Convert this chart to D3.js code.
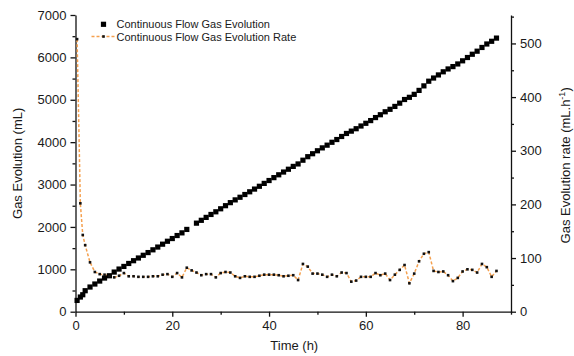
<!DOCTYPE html>
<html><head><meta charset="utf-8">
<script src="https://cdn.jsdelivr.net/npm/d3@7/dist/d3.min.js"></script>
<style>body{margin:0;background:#fff}svg{display:block}text{font-family:"Liberation Sans",Arial,sans-serif;fill:#1a1a1a}</style>
</head><body><svg id="c" width="574" height="356"></svg>
<script>
const times = [0.33,1,1.5,2,3,4,5,6,7,8,9,10,11,12,13,14,15,16,17,18,19,20,21,22,23,24,25,26,27,28,29,30,31,32,33,34,35,36,37,38,39,40,41,42,43,44,45,46,47,48,49,50,51,52,53,54,55,56,57,58,59,60,61,62,63,64,65,66,67,68,69,70,71,72,73,74,75,76,77,78,79,80,81,82,83,84,85,86,87];
const gasEvolution = [266,346,400,495,582,653,723,794,848,935,1006,1068,1138,1203,1267,1331,1395,1460,1525,1593,1662,1726,1797,1860,1941,null,2089,2156,2225,2294,2357,2428,2501,2573,2638,2700,2765,2829,2893,2959,3027,3095,3163,3230,3295,3361,3428,3486,3574,3657,3727,3797,3865,3929,3997,4062,4134,4205,4260,4317,4381,4445,4509,4580,4647,4717,4775,4843,4920,5006,5058,5128,5221,5328,5438,5513,5586,5660,5727,5783,5845,5919,5997,6074,6146,6234,6316,6380,6455];
const gasRate = [508,202,143,124,92,74,70,69,66,64,67,72,66,66,65,65,65,66,66,69,70,65,72,64,82,77,73,68,70,70,64,72,74,73,66,63,66,65,65,67,69,69,69,68,66,67,68,59,89,84,71,71,69,65,69,66,73,72,56,58,65,65,65,72,68,71,59,69,78,87,53,71,94,108,111,76,74,75,68,57,63,75,79,78,73,89,83,65,76];
const xTicks = [0,20,40,60,80];
const xMinor = [10,30,50,70,90];
const leftTicks = [0,1000,2000,3000,4000,5000,6000,7000];
const leftMinor = [500,1500,2500,3500,4500,5500,6500];
const rightTicks = [0,100,200,300,400,500];
const rightMinor = [50,150,250,350,450,550];
const legendLabels = ["Continuous Flow Gas Evolution","Continuous Flow Gas Evolution Rate"];

const svg = d3.select("#c");
const L = 75.5, R = 511, T = 15, B = 311.7;
const x = d3.scaleLinear().domain([0,90]).range([L,R]);
const yL = d3.scaleLinear().domain([0,7000]).range([B,T]);
const yR = d3.scaleLinear().domain([0,553]).range([B,T]);
const orange = "#f5a04e";

function styleAxis(g){
  g.selectAll("path").attr("stroke","#111").attr("stroke-width",1.3);
  g.selectAll("line").attr("stroke","#111").attr("stroke-width",1.3);
  g.selectAll("text").attr("font-size",13).attr("fill","#1a1a1a").attr("font-family","Liberation Sans, Arial, sans-serif");
}
// bottom axis
const gx = svg.append("g").attr("transform",`translate(0,${B})`)
  .call(d3.axisBottom(x).tickValues(xTicks).tickSize(5).tickSizeOuter(0).tickPadding(4).tickFormat(d3.format("d")));
styleAxis(gx);
const gxm = svg.append("g").attr("transform",`translate(0,${B})`)
  .call(d3.axisBottom(x).tickValues(xMinor).tickSize(3).tickSizeOuter(0).tickFormat(""));
styleAxis(gxm); gxm.select("path").remove();
// left axis
const gl = svg.append("g").attr("transform",`translate(${L},0)`)
  .call(d3.axisLeft(yL).tickValues(leftTicks).tickSize(5).tickSizeOuter(0).tickPadding(4).tickFormat(d3.format("d")));
styleAxis(gl);
const glm = svg.append("g").attr("transform",`translate(${L},0)`)
  .call(d3.axisLeft(yL).tickValues(leftMinor).tickSize(3).tickSizeOuter(0).tickFormat(""));
styleAxis(glm); glm.select("path").remove();
// right axis
const gr = svg.append("g").attr("transform",`translate(${R},0)`)
  .call(d3.axisRight(yR).tickValues(rightTicks).tickSize(5).tickSizeOuter(0).tickPadding(4).tickFormat(d3.format("d")));
styleAxis(gr);
const grm = svg.append("g").attr("transform",`translate(${R},0)`)
  .call(d3.axisRight(yR).tickValues(rightMinor).tickSize(3).tickSizeOuter(0).tickFormat(""));
styleAxis(grm); grm.select("path").remove();

// axis titles
svg.append("text").attr("x",(L+R)/2+1).attr("y",350).attr("text-anchor","middle").attr("font-size",13).text("Time (h)");
svg.append("text").attr("transform",`translate(22,${(T+B)/2}) rotate(-90)`).attr("text-anchor","middle").attr("font-size",13).text("Gas Evolution (mL)");
const rt = svg.append("text").attr("transform",`translate(570,${(T+B)/2+2}) rotate(-90)`).attr("text-anchor","middle").attr("font-size",13);
rt.append("tspan").text("Gas Evolution rate (mL.h");
rt.append("tspan").attr("dy",-5).attr("font-size",9).text("-1");
rt.append("tspan").attr("dy",5).text(")");

// data
const sq = times.map((t,i)=>({t,v:gasEvolution[i]})).filter(d=>d.v!=null);
const rate = times.map((t,i)=>({t,v:gasRate[i]}));

svg.append("path").datum(rate)
  .attr("d",d3.line().x(d=>x(d.t)).y(d=>yR(d.v)))
  .attr("fill","none").attr("stroke",orange).attr("stroke-width",1.5).attr("stroke-dasharray","3,2");
svg.append("g").selectAll("rect").data(sq).join("rect")
  .attr("x",d=>x(d.t)-2.6).attr("y",d=>yL(d.v)-2.6).attr("width",5.2).attr("height",5.2).attr("fill","#000");
svg.append("g").selectAll("rect").data(rate).join("rect")
  .attr("x",d=>x(d.t)-1.3).attr("y",d=>yR(d.v)-1.3).attr("width",2.6).attr("height",2.6).attr("fill","#111");

// legend
const lg = svg.append("g");
lg.append("rect").attr("x",103.5-2.6).attr("y",24.3-2.6).attr("width",5.2).attr("height",5.2).attr("fill","#000");
lg.append("text").attr("x",116.5).attr("y",28.3).attr("font-size",11).text(legendLabels[0]);
lg.append("line").attr("x1",91.5).attr("x2",115.5).attr("y1",36.5).attr("y2",36.5).attr("stroke",orange).attr("stroke-width",1.5).attr("stroke-dasharray","3,2");
lg.append("rect").attr("x",103.5-1.3).attr("y",36.5-1.3).attr("width",2.6).attr("height",2.6).attr("fill","#111");
lg.append("text").attr("x",116.5).attr("y",40.5).attr("font-size",11).text(legendLabels[1]);
</script></body></html>
